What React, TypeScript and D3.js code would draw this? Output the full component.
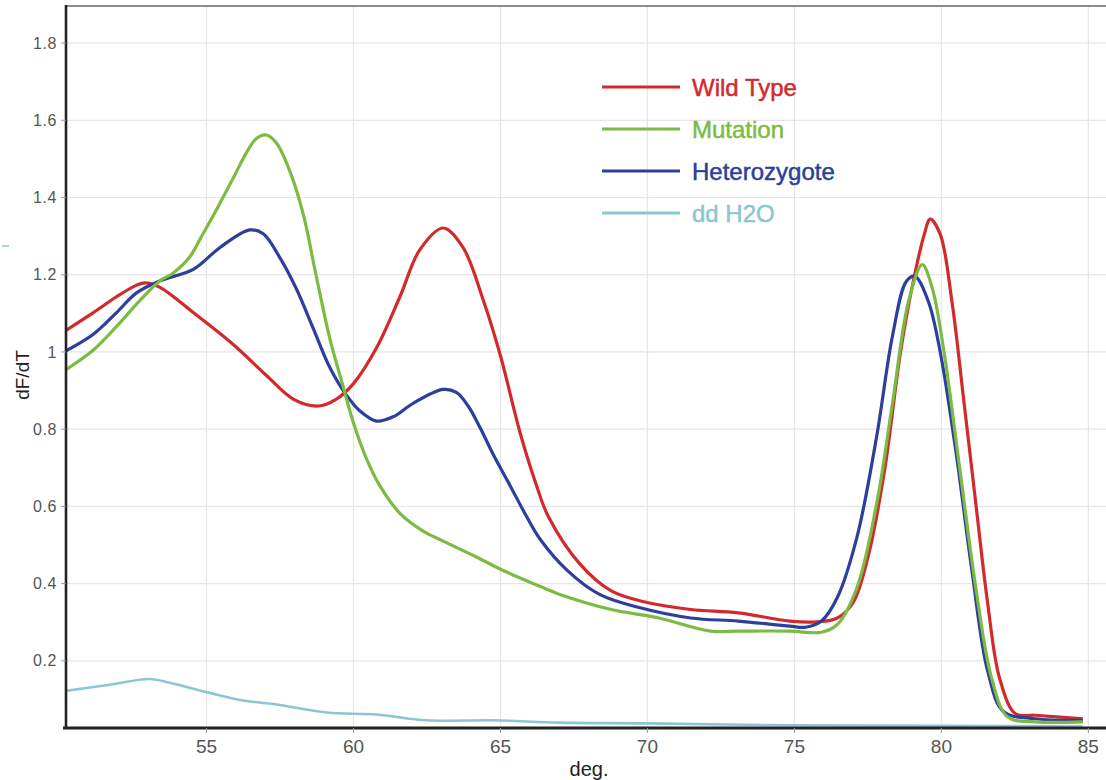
import React from "react";
import * as d3 from "d3";

const W = 1106;
const H = 780;

const xTicks = [55, 60, 65, 70, 75, 80, 85];
const yTicks = [0.2, 0.4, 0.6, 0.8, 1, 1.2, 1.4, 1.6, 1.8];
const yTickLabels = ["0.2", "0.4", "0.6", "0.8", "1", "1.2", "1.4", "1.6", "1.8"];

const seriesNames = ["Wild Type", "Mutation", "Heterozygote", "dd H2O"];
const seriesColors = ["#d22a2c", "#7cbb43", "#2c3f9c", "#8ac6d4"];

const wildTypeT = [50.22, 51.15, 51.94, 52.62, 52.9, 53.4, 54.55, 55.9, 57.04, 57.95, 58.8, 59.42, 60.0, 60.78, 61.58, 62.26, 63.05, 63.73, 64.41, 65.0, 65.67, 66.2, 66.62, 67.7, 68.77, 69.99, 71.47, 73.09, 74.84, 75.78, 76.46, 77.0, 77.53, 78.07, 78.61, 79.02, 79.42, 79.62, 79.96, 80.36, 80.77, 81.17, 81.58, 81.98, 82.52, 83.19, 84.81];
const wildTypeV = [1.056, 1.102, 1.143, 1.173, 1.179, 1.168, 1.102, 1.02, 0.939, 0.878, 0.86, 0.878, 0.918, 1.01, 1.143, 1.265, 1.321, 1.27, 1.135, 0.99, 0.79, 0.66, 0.575, 0.451, 0.381, 0.351, 0.333, 0.324, 0.303, 0.301, 0.311, 0.351, 0.477, 0.695, 1.0, 1.174, 1.305, 1.344, 1.305, 1.13, 0.869, 0.608, 0.346, 0.155, 0.063, 0.059, 0.05];

const mutationT = [50.22, 51.15, 51.94, 52.73, 53.41, 53.86, 54.42, 54.88, 55.33, 55.9, 56.35, 56.7, 57.04, 57.38, 57.83, 58.29, 58.74, 59.2, 59.65, 60.0, 60.44, 60.9, 61.58, 62.37, 63.05, 64.18, 65.09, 66.34, 67.02, 68.77, 70.39, 72.14, 73.09, 74.84, 75.92, 76.46, 77.13, 77.8, 78.34, 78.88, 79.35, 79.69, 80.09, 80.63, 81.17, 81.71, 82.25, 83.19, 84.81];
const mutationV = [0.954, 1.005, 1.066, 1.133, 1.184, 1.204, 1.245, 1.306, 1.367, 1.449, 1.515, 1.553, 1.562, 1.541, 1.469, 1.357, 1.194, 1.033, 0.91, 0.816, 0.724, 0.653, 0.582, 0.536, 0.51, 0.469, 0.434, 0.393, 0.372, 0.333, 0.311, 0.277, 0.277, 0.277, 0.274, 0.294, 0.39, 0.608, 0.869, 1.13, 1.226, 1.165, 1.0, 0.695, 0.39, 0.155, 0.055, 0.042, 0.042];

const heteroT = [50.22, 51.15, 51.94, 52.62, 53.41, 54.55, 55.45, 56.47, 56.93, 57.49, 58.06, 58.63, 59.2, 59.76, 60.22, 60.78, 61.35, 62.03, 63.05, 63.5, 63.9, 64.3, 64.75, 65.32, 65.88, 66.35, 67.29, 68.37, 69.72, 71.47, 73.09, 74.84, 75.38, 75.92, 76.46, 77.13, 77.8, 78.34, 78.81, 79.1, 79.56, 79.96, 80.5, 81.04, 81.58, 82.12, 83.19, 84.81];
const heteroV = [1.003, 1.046, 1.102, 1.153, 1.184, 1.214, 1.27, 1.316, 1.306, 1.245, 1.163, 1.061, 0.959, 0.888, 0.847, 0.821, 0.832, 0.867, 0.903, 0.895, 0.86, 0.805, 0.735, 0.655, 0.575, 0.515, 0.433, 0.372, 0.338, 0.311, 0.303, 0.29, 0.287, 0.303, 0.364, 0.521, 0.782, 1.043, 1.183, 1.196, 1.13, 1.0, 0.739, 0.433, 0.172, 0.068, 0.05, 0.046];

const waterT = [50.22, 51.71, 53.07, 53.75, 55.11, 56.24, 57.38, 59.08, 60.78, 62.48, 64.75, 67.0, 70.0, 75.0, 80.0, 84.81];
const waterV = [0.122, 0.138, 0.153, 0.143, 0.117, 0.097, 0.087, 0.066, 0.061, 0.046, 0.046, 0.04, 0.038, 0.033, 0.032, 0.03];

const seriesT = [wildTypeT, mutationT, heteroT, waterT];
const seriesV = [wildTypeV, mutationV, heteroV, waterV];

export default function App() {
  const left = 66;
  const right = 1106;
  const top = 6;
  const bottom = 728;

  const x = d3.scaleLinear().domain([50.22, 85.6]).range([left, right]);
  const y = d3.scaleLinear().domain([0.026, 1.896]).range([bottom, top]);

  const line = d3
    .line<[number, number]>()
    .x((d) => x(d[0]))
    .y((d) => y(d[1]))
    .curve(d3.curveCatmullRom.alpha(0.5));

  const order = [3, 0, 2, 1];

  const legendX1 = 602;
  const legendX2 = 680;
  const legendY0 = 87;
  const legendDy = 42;

  return (
    <svg
      width={W}
      height={H}
      style={{ position: "absolute", left: 0, top: 0, background: "#fff" }}
      fontFamily="'Liberation Sans', Arial, sans-serif"
    >
      <defs>
        <clipPath id="plotClip">
          <rect x={left} y={top} width={right - left} height={bottom - top} />
        </clipPath>
      </defs>
      <rect x={0} y={0} width={W} height={H} fill="#fff" />

      {xTicks.map((t) => (
        <line key={"gx" + t} x1={x(t)} x2={x(t)} y1={top} y2={bottom} stroke="#e6e6e6" strokeWidth={1.2} />
      ))}
      {yTicks.map((t) => (
        <line key={"gy" + t} x1={left} x2={right} y1={y(t)} y2={y(t)} stroke="#e6e6e6" strokeWidth={1.2} />
      ))}

      <g clipPath="url(#plotClip)">
        {order.map((i) => {
          const pts: [number, number][] = seriesT[i].map((t, k) => [t, seriesV[i][k]]);
          return (
            <path
              key={seriesNames[i]}
              d={line(pts) || ""}
              fill="none"
              stroke={seriesColors[i]}
              strokeWidth={i === 3 ? 2.6 : 3.2}
              strokeLinejoin="round"
            />
          );
        })}
      </g>

      <line x1={left} x2={right} y1={top} y2={top} stroke="#666" strokeWidth={1.6} />
      <line x1={left} x2={left} y1={top - 1} y2={bottom} stroke="#222" strokeWidth={2.6} />
      <line x1={left - 3} x2={right} y1={bottom} y2={bottom} stroke="#222" strokeWidth={3} />

      {yTicks.map((t, i) => (
        <g key={"yt" + t}>
          <line x1={left - 5} x2={left} y1={y(t)} y2={y(t)} stroke="#999" strokeWidth={1} />
          <text x={57} y={y(t)} dy="0.35em" textAnchor="end" fontSize={16} fill="#555" letterSpacing={0.6}>
            {yTickLabels[i]}
          </text>
        </g>
      ))}

      {xTicks.map((t) => (
        <g key={"xt" + t}>
          <line x1={x(t)} x2={x(t)} y1={bottom} y2={bottom + 5} stroke="#999" strokeWidth={1} />
          <text
            x={x(t)}
            y={753}
            textAnchor="middle"
            fontSize={19}
            fill="#555"
            fontFamily="'Liberation Sans Narrow', 'Liberation Sans', Arial, sans-serif"
          >
            {t}
          </text>
        </g>
      ))}

      <text x={589} y={776} textAnchor="middle" fontSize={20} fill="#222">
        deg.
      </text>
      <text transform="translate(29,375) rotate(-90)" textAnchor="middle" fontSize={19} fill="#222">
        dF/dT
      </text>

      <line x1={2} x2={9} y1={246} y2={246} stroke="#8ac6d4" strokeWidth={1.5} />

      {seriesNames.map((name, i) => (
        <g key={"lg" + name}>
          <line
            x1={legendX1}
            x2={legendX2}
            y1={legendY0 + i * legendDy}
            y2={legendY0 + i * legendDy}
            stroke={seriesColors[i]}
            strokeWidth={3.2}
          />
          <text
            x={692}
            y={legendY0 + i * legendDy}
            dy="0.36em"
            fontSize={24}
            fill={seriesColors[i]}
            stroke={seriesColors[i]}
            strokeWidth={0.5}
          >
            {name}
          </text>
        </g>
      ))}
    </svg>
  );
}
